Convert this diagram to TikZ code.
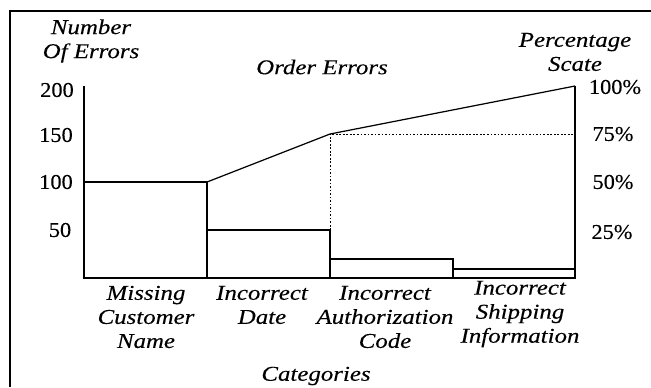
\documentclass[tikz,border=0pt]{standalone}
\usepackage{fontspec}
\setmainfont{Liberation Serif}[FakeStretch=1.06, FakeBold=0.2, ItalicFeatures={FakeStretch=1.18, FakeBold=0.2}]
\begin{document}
\begin{tikzpicture}[x=0.02cm,y=-0.02cm]
  \useasboundingbox (0,0) rectangle (651,387);
  \draw[line width=1pt] (10,387) -- (10,11) -- (651,11);
  % chart points
  \coordinate (O) at (84,278);
  \coordinate (Ltop) at (84,86);
  \coordinate (Rtop) at (575,86);
  \coordinate (Rbot) at (575,278);
  \coordinate (C1) at (207,182);
  \coordinate (C2) at (330,134);
  \coordinate (R75) at (575,134);
  \coordinate (B2) at (330,230);
  \begin{scope}[every path/.style={line width=0.7pt}]
    \draw (Ltop) -- (O) -- (Rbot) -- (Rtop);
    \draw (84,182) rectangle (207,278);
    \draw (207,230) rectangle (330,278);
    \draw (330,259) rectangle (453,278);
    \draw (453,269) rectangle (575,278);
    \draw (C1) -- (C2) -- (Rtop);
    \draw[dash pattern=on 1pt off 1pt, line width=0.5pt] (B2) -- (C2) -- (R75);
  \end{scope}
  \begin{scope}[every node/.style={font=\fontsize{12}{13.7}\selectfont\itshape,align=center,inner sep=0pt}]
    \node (yname) at (91,41) {Number\\Of Errors};
    \node (title) at (322,67) {Order Errors};
    \node (pname) at (575,52) {Percentage\\Scate};
    \node (cat1) at (146,317) {Missing\\Customer\\Name};
    \node (cat2) at (262,305) {Incorrect\\Date};
    \node (cat3) at (385,317) {Incorrect\\Authorization\\Code};
    \node (cat4) at (520,314) {Incorrect\\Shipping\\Information};
    \node (xname) at (316,376) {Categories};
  \end{scope}
  \begin{scope}[every node/.style={font=\fontsize{12}{13.7}\selectfont,inner sep=0pt}]
    \node (t200) at (57,90) {200};
    \node (t150) at (56,135) {150};
    \node (t100) at (56,182) {100};
    \node (t50) at (60,230) {50};
    \node (p100) at (615,87) {100\%};
    \node (p75) at (613,134) {75\%};
    \node (p50) at (613,182) {50\%};
    \node (p25) at (612,232) {25\%};
  \end{scope}
\end{tikzpicture}
\end{document}
